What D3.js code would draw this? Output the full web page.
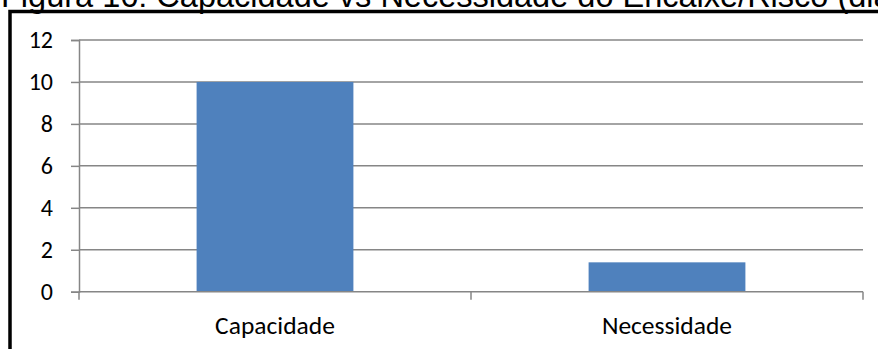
<!DOCTYPE html>
<html>
<head>
<meta charset="utf-8">
<script src="https://cdn.jsdelivr.net/npm/d3@7"></script>
<style>
  html, body { margin: 0; padding: 0; background: #fff; overflow: hidden; }
  svg { display: block; }
</style>
</head>
<body>
<svg id="chart" width="878" height="349"></svg>
<script>
// Chart content
const titleText = "Figura 16: Capacidade vs Necessidade do Encaixe/Risco (dias)";
const categories = ["Capacidade", "Necessidade"];
const values = [10, 1.4];
const yTicks = [0, 2, 4, 6, 8, 10, 12];

const W = 878, H = 349;
const plot = { left: 79, right: 863, top: 40, bottom: 291.7 };
const labelFont = "Carlito, Calibri, Lato, 'Open Sans', sans-serif";

const svg = d3.select("#chart");

// Caption above the framed chart
svg.append("text")
  .attr("x", 1)
  .attr("y", 7)
  .attr("font-family", "'Liberation Sans', Arial, sans-serif")
  .attr("font-size", 32.5)
  .attr("fill", "#000")
  .text(titleText);

// Black frame around the chart object
svg.append("rect")
  .attr("x", 10)
  .attr("y", 11.5)
  .attr("width", W + 50)
  .attr("height", H + 50)
  .attr("fill", "none")
  .attr("stroke", "#000")
  .attr("stroke-width", 3.5);

const x = d3.scaleBand()
  .domain(categories)
  .range([plot.left, plot.right])
  .padding(0);

const y = d3.scaleLinear()
  .domain([0, 12])
  .range([plot.bottom, plot.top]);

const gridColor = "#868686";

// Horizontal gridlines
svg.append("g")
  .selectAll("line")
  .data(yTicks.filter(d => d !== 0))
  .join("line")
  .attr("x1", plot.left)
  .attr("x2", plot.right)
  .attr("y1", d => y(d))
  .attr("y2", d => y(d))
  .attr("stroke", gridColor)
  .attr("stroke-width", 1.5);

// Bars: width is 40% of each category slot (150% gap)
const barW = x.bandwidth() * 0.4;
svg.append("g")
  .selectAll("rect")
  .data(values)
  .join("rect")
  .attr("x", (d, i) => x(categories[i]) + (x.bandwidth() - barW) / 2)
  .attr("y", d => y(d))
  .attr("width", barW)
  .attr("height", d => y(0) - y(d))
  .attr("fill", "#4F81BD");

// Y axis
const yAxis = d3.axisLeft(y)
  .tickValues(yTicks)
  .tickSize(8)
  .tickPadding(18)
  .tickFormat(d3.format("d"));
const gy = svg.append("g")
  .attr("transform", `translate(${plot.left},0)`)
  .call(yAxis);
gy.select(".domain").attr("stroke", gridColor).attr("stroke-width", 1.5);
gy.selectAll(".tick line").attr("stroke", gridColor).attr("stroke-width", 1.5);
gy.selectAll(".tick text")
  .attr("font-family", labelFont)
  .attr("font-size", 24)
  .attr("fill", "#000");

// X axis with tick marks at category boundaries
const gx = svg.append("g")
  .attr("transform", `translate(0,${plot.bottom})`);
gx.append("line")
  .attr("x1", plot.left).attr("x2", plot.right)
  .attr("stroke", gridColor).attr("stroke-width", 1.5);
const bounds = categories.map(c => x(c)).concat([x(categories[categories.length - 1]) + x.bandwidth()]);
gx.selectAll("line.tk")
  .data(bounds)
  .join("line")
  .attr("class", "tk")
  .attr("x1", d => d).attr("x2", d => d)
  .attr("y1", 0).attr("y2", 8)
  .attr("stroke", gridColor).attr("stroke-width", 1.5);
gx.selectAll("text")
  .data(categories)
  .join("text")
  .attr("x", d => x(d) + x.bandwidth() / 2)
  .attr("y", 42)
  .attr("text-anchor", "middle")
  .attr("font-family", labelFont)
  .attr("font-size", 25.5)
  .attr("fill", "#000")
  .text(d => d);
</script>
</body>
</html>
